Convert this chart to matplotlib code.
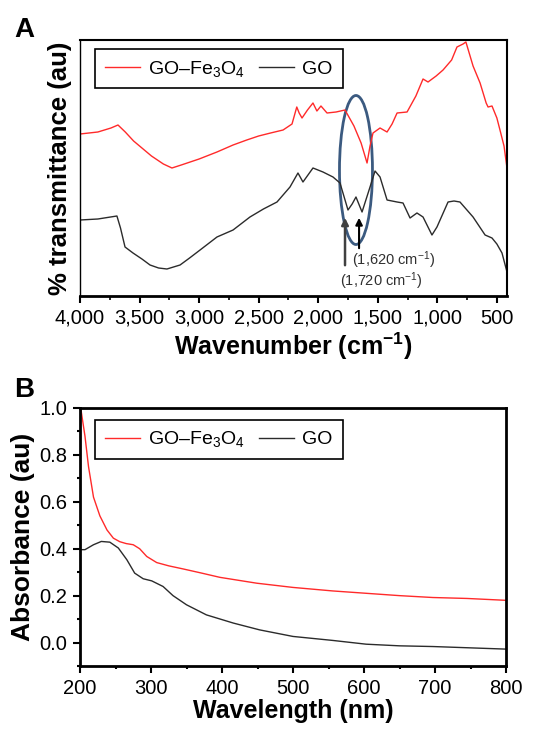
import matplotlib
matplotlib.use("Agg")
import matplotlib.pyplot as plt
from matplotlib.patches import Ellipse
from matplotlib.ticker import MultipleLocator, FuncFormatter

plt.rcParams['font.family'] = ['Liberation Sans', 'DejaVu Sans']
plt.rcParams['mathtext.fontset'] = 'custom'
plt.rcParams['mathtext.rm'] = 'Liberation Sans'
plt.rcParams['mathtext.it'] = 'Liberation Sans:italic'
plt.rcParams['mathtext.bf'] = 'Liberation Sans:bold'

# ---------------- Panel A: FTIR (arbitrary transmittance units) ----------------
ftir_red_wn = [4000, 3850, 3740, 3681, 3620, 3550, 3400, 3300, 3228, 3150, 3000, 2850,
               2715, 2600, 2500, 2400, 2295, 2220, 2180, 2160, 2136, 2090, 2044, 2011,
               1977, 1926, 1850, 1775, 1700, 1640, 1590, 1565, 1540, 1481, 1422, 1380,
               1338, 1254, 1180, 1120, 1078, 1010, 952, 880, 835, 784, 760, 740, 700,
               641, 590, 574, 541, 500, 474, 440, 415]
ftir_red_t = [162, 164, 168, 171, 164, 155, 140, 132, 128, 131, 137, 144,
              151, 156, 160, 163, 166, 172, 189, 183, 178, 186, 193, 185,
              190, 183, 184, 186, 170, 153, 133, 150, 163, 168, 164, 172,
              183, 184, 200, 217, 214, 220, 226, 236, 249, 252, 254, 246, 230,
              213, 193, 189, 190, 178, 166, 150, 128]

ftir_blk_wn = [4000, 3850, 3690, 3660, 3622, 3555, 3480, 3412, 3340, 3270, 3160, 3080,
               2992, 2850, 2715, 2573, 2460, 2346, 2237, 2170, 2128, 2044, 1960, 1876,
               1817, 1750, 1715, 1683, 1632, 1565, 1523, 1481, 1422, 1338, 1288, 1229,
               1171, 1120, 1045, 1003, 910, 860, 810, 700, 599, 541, 500, 457, 415]
ftir_blk_t = [76, 77, 80, 68, 49, 43, 37, 31, 28, 27, 31, 38,
              46, 59, 66, 79, 87, 94, 109, 123, 114, 128, 124, 119,
              113, 86, 92, 99, 84, 109, 125, 119, 96, 94, 93, 78,
              83, 79, 61, 69, 94, 95, 94, 79, 61, 58, 52, 43, 24]

# ---------------- Panel B: UV-vis ----------------
uv_red_wl = [201, 204, 207, 212, 219, 228, 238, 247, 256, 265, 275, 284, 294, 308,
             325, 345, 370, 397, 449, 500, 556, 603, 650, 697, 745, 800]
uv_red_abs = [1.0, 0.94, 0.88, 0.75, 0.62, 0.54, 0.48, 0.445, 0.43, 0.422, 0.417,
              0.40, 0.367, 0.341, 0.327, 0.314, 0.297, 0.278, 0.253, 0.235, 0.22,
              0.21, 0.20, 0.192, 0.188, 0.18]

uv_blk_wl = [200, 207, 219, 230, 242, 254, 266, 277, 289, 301, 317, 331, 350, 378,
             416, 453, 500, 556, 603, 650, 697, 800]
uv_blk_abs = [0.396, 0.396, 0.417, 0.431, 0.428, 0.403, 0.353, 0.296, 0.272, 0.263,
              0.239, 0.20, 0.161, 0.118, 0.083, 0.054, 0.026, 0.009, -0.007, -0.014,
              -0.017, -0.028]

RED = '#ff2a2a'
BLK = '#2b2b2b'
labels = ['GO\u2013Fe$_{3}$O$_{4}$', 'GO']

fig = plt.figure(figsize=(5.52, 7.35), dpi=100)

def make_legend(ax, handles, y):
    leg = ax.legend(handles, labels, loc='upper left', bbox_to_anchor=(0.035, y),
                    borderaxespad=0, ncol=2, fontsize=14, handlelength=1.8,
                    handletextpad=0.45, columnspacing=0.7, fancybox=False,
                    edgecolor='black', framealpha=1, borderpad=0.5)
    leg.get_frame().set_linewidth(1.2)
    return leg

# ---- Axes A ----
axA = fig.add_axes([80/552, 439/735, 427/552, 256/735])
lr, = axA.plot(ftir_red_wn, ftir_red_t, color=RED, lw=1.0)
lb, = axA.plot(ftir_blk_wn, ftir_blk_t, color=BLK, lw=1.0)
axA.set_xlim(4000, 415)
axA.set_ylim(0, 256)
axA.xaxis.set_major_locator(MultipleLocator(500))
axA.xaxis.set_minor_locator(MultipleLocator(250))
axA.xaxis.set_major_formatter(FuncFormatter(lambda v, p: f"{int(v):,}"))
axA.set_yticks([])
axA.tick_params(axis='x', which='major', direction='out', length=5, width=1.5,
                labelsize=14.5, pad=4)
axA.tick_params(axis='x', which='minor', direction='out', length=3, width=1.2)
for s, w in [('bottom', 2.0), ('top', 1.5), ('left', 1.0), ('right', 1.5)]:
    axA.spines[s].set_linewidth(w)
axA.set_xlabel('Wavenumber (cm$^{\\mathbf{-1}}$)', fontsize=18, fontweight='bold', labelpad=2)
axA.set_ylabel('% transmittance (au)', fontsize=18.5, fontweight='bold', labelpad=6)

ell = Ellipse((1683, 126), width=277, height=149, fill=False,
              edgecolor='#3b5a80', lw=2.0)
axA.add_patch(ell)
axA.annotate('', xy=(1775, 81), xytext=(1775, 28),
             arrowprops=dict(arrowstyle='-|>', color='#404040', lw=1.8,
                             mutation_scale=10))
axA.annotate('', xy=(1657, 81), xytext=(1657, 45),
             arrowprops=dict(arrowstyle='-|>', color='black', lw=1.5,
                             mutation_scale=10))
axA.text(1720, 36, '(1,620 cm$^{-1}$)', fontsize=10.5, color='#303030', va='center', ha='left')
axA.text(1815, 15, '(1,720 cm$^{-1}$)', fontsize=10.5, color='#303030', va='center', ha='left')

make_legend(axA, [lr, lb], 0.965)

fig.text(14/552, 1 - 30/735, 'A', fontsize=20, fontweight='bold', va='center', ha='left')

# ---- Axes B ----
axB = fig.add_axes([80/552, 69/735, 426/552, 258/735])
lr2, = axB.plot(uv_red_wl, uv_red_abs, color=RED, lw=1.0)
lb2, = axB.plot(uv_blk_wl, uv_blk_abs, color=BLK, lw=1.0)
axB.set_xlim(200, 800)
axB.set_ylim(-0.1, 1.0)
axB.xaxis.set_major_locator(MultipleLocator(100))
axB.xaxis.set_minor_locator(MultipleLocator(50))
axB.yaxis.set_major_locator(MultipleLocator(0.2))
axB.yaxis.set_minor_locator(MultipleLocator(0.1))
axB.yaxis.set_major_formatter(FuncFormatter(lambda v, p: f"{v:.1f}"))
axB.tick_params(which='major', direction='out', length=5, width=1.5, labelsize=14.5, pad=4)
axB.tick_params(which='minor', direction='out', length=2.5, width=1.5)
for s in axB.spines.values():
    s.set_linewidth(2.0)
axB.set_xlabel('Wavelength (nm)', fontsize=18, fontweight='bold', labelpad=1)
axB.set_ylabel('Absorbance (au)', fontsize=19, fontweight='bold', labelpad=3)

make_legend(axB, [lr2, lb2], 0.955)

fig.text(14/552, 1 - 390/735, 'B', fontsize=20, fontweight='bold', va='center', ha='left')

fig.savefig('out.png', dpi=100)
